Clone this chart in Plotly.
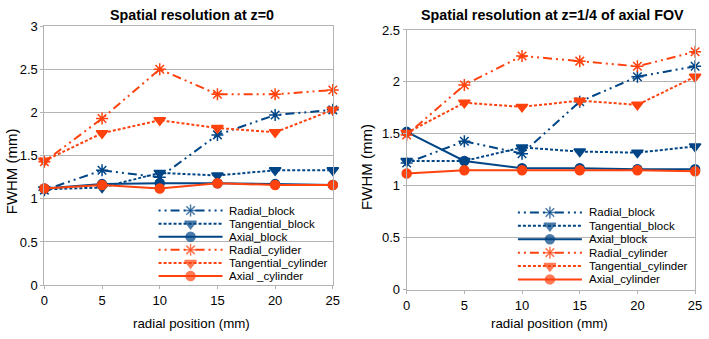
import plotly.graph_objects as go

x_pos = [0, 5, 10, 15, 20, 25]

# Left panel: z = 0
L_radial_block = [1.10, 1.33, 1.25, 1.74, 1.97, 2.03]
L_tangential_block = [1.11, 1.13, 1.30, 1.27, 1.33, 1.33]
L_axial_block = [1.12, 1.17, 1.18, 1.18, 1.17, 1.16]
L_radial_cyl = [1.43, 1.93, 2.50, 2.21, 2.21, 2.26]
L_tangential_cyl = [1.44, 1.76, 1.91, 1.82, 1.77, 2.03]
L_axial_cyl = [1.12, 1.16, 1.12, 1.18, 1.16, 1.16]

# Right panel: z = 1/4 of axial FOV
R_radial_block = [1.22, 1.43, 1.31, 1.81, 2.05, 2.15]
R_tangential_block = [1.24, 1.24, 1.37, 1.33, 1.32, 1.38]
R_axial_block = [1.52, 1.24, 1.17, 1.17, 1.16, 1.16]
R_radial_cyl = [1.49, 1.97, 2.25, 2.20, 2.15, 2.29]
R_tangential_cyl = [1.51, 1.80, 1.76, 1.82, 1.78, 2.05]
R_axial_cyl = [1.12, 1.15, 1.15, 1.15, 1.15, 1.14]

L_names = ["Radial_block", "Tangential_block", "Axial_block",
           "Radial_cylider", "Tangential_cylinder", "Axial _cylinder"]
R_names = ["Radial_block", "Tangential_block", "Axial_block",
           "Radial_cylinder", "Tangential_cylinder", "Axial_cylinder"]

y_ticks_left = [0, 0.5, 1, 1.5, 2, 2.5, 3]
y_ticks_right = [0, 0.5, 1, 1.5, 2, 2.5]

BLUE = "#004586"
ORANGE = "#ff420e"
GRID = "#b3b3b3"
FONT = "Liberation Sans, Arial, sans-serif"

dash_radial = "2px,4px,2px,4px,9px,4px"
dash_tang = "3px,2px"

styles = [
    (BLUE, dash_radial, "asterisk-open", 10),
    (BLUE, dash_tang, "triangle-down", 10),
    (BLUE, "solid", "circle", 9),
    (ORANGE, dash_radial, "asterisk-open", 10),
    (ORANGE, dash_tang, "triangle-down", 10),
    (ORANGE, "solid", "circle", 9),
]

W, H = 709, 339


def px_x(p):
    return p / W


def px_y(p):
    return 1 - p / H


fig = go.Figure()

left_series = [L_radial_block, L_tangential_block, L_axial_block,
               L_radial_cyl, L_tangential_cyl, L_axial_cyl]
right_series = [R_radial_block, R_tangential_block, R_axial_block,
                R_radial_cyl, R_tangential_cyl, R_axial_cyl]

for ys, name, (col, dash, sym, sz) in zip(left_series, L_names, styles):
    fig.add_trace(go.Scatter(
        x=x_pos, y=ys, name=name, mode="lines+markers",
        line=dict(color=col, width=2, dash=dash),
        marker=dict(symbol=sym, size=sz, color=col,
                    line=dict(color=col, width=1.5)),
        cliponaxis=False, xaxis="x", yaxis="y", showlegend=False))

for ys, name, (col, dash, sym, sz) in zip(right_series, R_names, styles):
    fig.add_trace(go.Scatter(
        x=x_pos, y=ys, name=name, mode="lines+markers",
        line=dict(color=col, width=2, dash=dash),
        marker=dict(symbol=sym, size=sz, color=col,
                    line=dict(color=col, width=1.5)),
        cliponaxis=False, xaxis="x2", yaxis="y2", showlegend=False))

# ---- custom legends (drawn on a pixel-space overlay axis) ----
legend_boxes = [
    # (line start, line end, text x, first row y, row step, names)
    (157, 222, 227, 213, 13.7, L_names),
    (522, 587, 592, 215, 14.0, R_names),
]
annotations = []
for (lx0, lx1, tx, ry0, step, names) in legend_boxes:
    for i, (name, (col, dash, sym, sz)) in enumerate(zip(names, styles)):
        ry = ry0 + i * step
        fig.add_trace(go.Scatter(
            x=[lx0, (lx0 + lx1) / 2, lx1], y=[ry, ry, ry],
            mode="lines+markers",
            line=dict(color=col, width=2, dash=dash),
            marker=dict(symbol=sym, size=[0, sz, 0], color=col,
                        line=dict(color=col, width=1.5)),
            cliponaxis=False, xaxis="x3", yaxis="y3", showlegend=False,
            hoverinfo="skip"))
        annotations.append(dict(
            text=name, x=tx, y=ry, xref="x3", yref="y3",
            xanchor="left", yanchor="middle", showarrow=False,
            font=dict(family=FONT, size=11.5, color="#000000")))

axis_common = dict(
    showline=True, linecolor=GRID, linewidth=1, mirror=True,
    ticks="outside", ticklen=3, tickcolor=GRID, zeroline=False,
    ticklabeloverflow="allow",
    tickfont=dict(family=FONT, size=13, color="#000000"),
)

fig.update_layout(
    width=W, height=H,
    margin=dict(l=0, r=0, t=0, b=0),
    paper_bgcolor="white", plot_bgcolor="rgba(0,0,0,0)",
    font=dict(family=FONT, size=13, color="#000000"),
    showlegend=False,
    xaxis=dict(domain=[px_x(41), px_x(334)], range=[0, 25], tickvals=x_pos,
               anchor="y", showgrid=False, **axis_common),
    yaxis=dict(domain=[px_y(291), px_y(20)], range=[0, 3],
               tickvals=y_ticks_left, anchor="x", showgrid=True,
               gridcolor=GRID, gridwidth=1, **axis_common),
    xaxis2=dict(domain=[px_x(409), px_x(702)], range=[0, 25], tickvals=x_pos,
                anchor="y2", showgrid=False, **axis_common),
    yaxis2=dict(domain=[px_y(296), px_y(24)], range=[0, 2.5],
                tickvals=y_ticks_right, anchor="x2", showgrid=True,
                gridcolor=GRID, gridwidth=1, **axis_common),
    xaxis3=dict(domain=[0, 1], range=[0, W], visible=False, anchor="y3",
                fixedrange=True),
    yaxis3=dict(domain=[0, 1], range=[H, 0], visible=False, anchor="x3",
                fixedrange=True),
)

texts = [
    dict(text="<b>Spatial resolution at z=0</b>", x=px_x(191), y=px_y(8),
         size=14.3),
    dict(text="<b>Spatial resolution at z=1/4 of axial FOV</b>",
         x=px_x(557), y=px_y(8), size=14.3),
    dict(text="radial position (mm)", x=px_x(190), y=px_y(331), size=13.3),
    dict(text="radial position (mm)", x=px_x(554), y=px_y(331), size=13.3),
    dict(text="FWHM (mm)", x=px_x(7), y=px_y(172), size=15, angle=-90),
    dict(text="FWHM (mm)", x=px_x(368), y=px_y(167), size=15, angle=-90),
]
for t in texts:
    annotations.append(dict(
        text=t["text"], x=t["x"], y=t["y"], xref="paper", yref="paper",
        showarrow=False, xanchor="center", yanchor="middle",
        textangle=t.get("angle", 0),
        font=dict(family=FONT, size=t["size"], color="#000000")))

fig.update_layout(annotations=annotations)

fig.write_html("out.html",
               config={"displayModeBar": False},
               post_script="document.body.style.margin='0';"
                           "document.body.style.overflow='hidden';")
